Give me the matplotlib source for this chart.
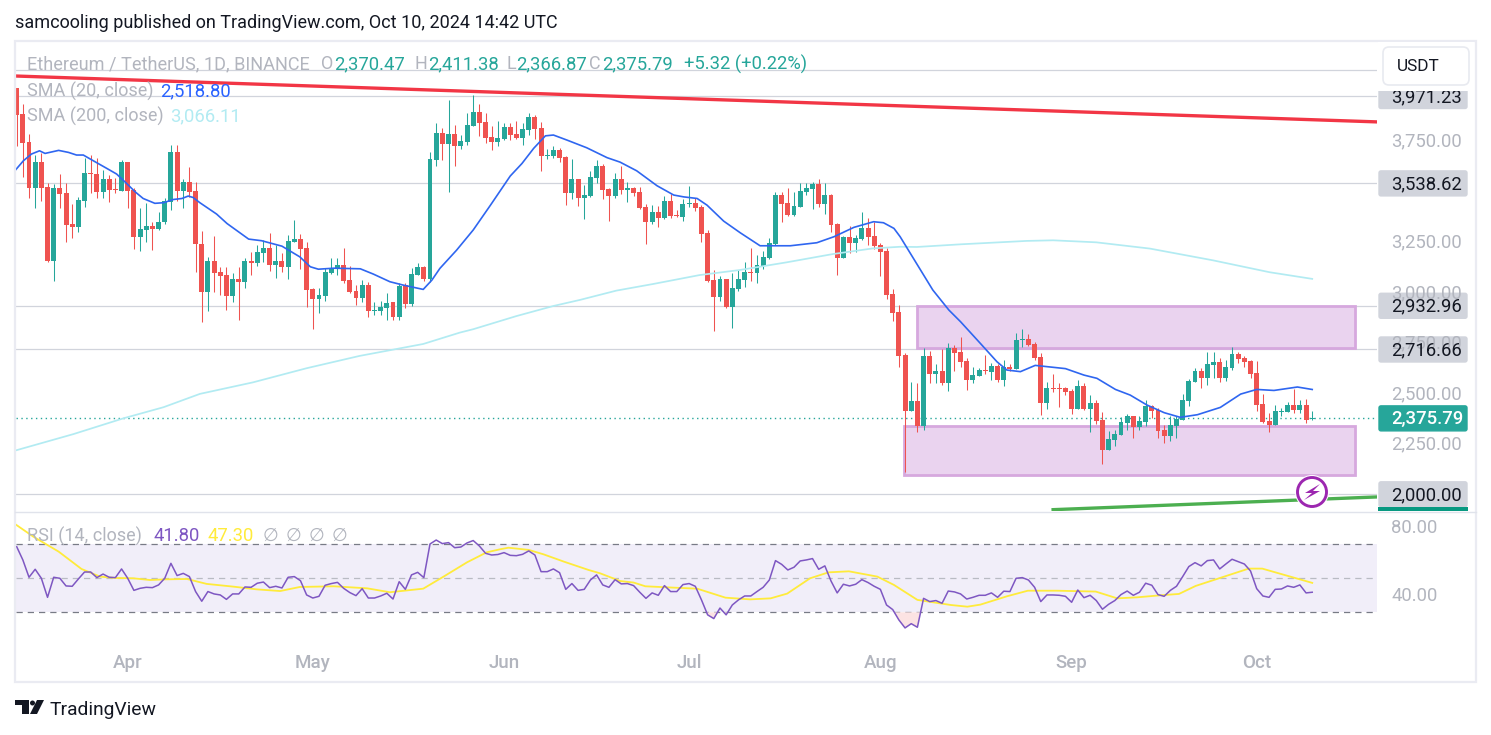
import matplotlib
matplotlib.use('Agg')
import matplotlib.pyplot as plt
from matplotlib.patches import Rectangle, FancyBboxPatch, Circle, Polygon

plt.rcParams['font.family'] = ['Roboto', 'DejaVu Sans']

# daily candles, 14 Mar - 10 Oct 2024
opens = [4009, 3882, 3743, 3517, 3644, 3520, 3156, 3515, 3491, 3337,
         3324, 3453, 3590, 3585, 3497, 3560, 3510, 3502, 3644, 3505,
         3275, 3308, 3327, 3312, 3349, 3448, 3694, 3501, 3545, 3501,
         3238, 3002, 3154, 3098, 3085, 2982, 3065, 3052, 3154, 3146,
         3195, 3218, 3134, 3154, 3124, 3250, 3263, 3218, 3015, 2966,
         2982, 3096, 3113, 3134, 3060, 3006, 2972, 3035, 2907, 2907,
         2923, 2951, 2878, 3034, 2941, 3085, 3126, 3065, 3654, 3786,
         3733, 3783, 3723, 3743, 3822, 3892, 3842, 3768, 3743, 3756,
         3817, 3783, 3763, 3802, 3867, 3812, 3675, 3674, 3704, 3669,
         3491, 3560, 3466, 3476, 3565, 3624, 3510, 3476, 3560, 3507,
         3515, 3496, 3421, 3347, 3397, 3367, 3451, 3382, 3372, 3438,
         3441, 3421, 3293, 3060, 2976, 3065, 2926, 3015, 3060, 3100,
         3095, 3129, 3169, 3238, 3481, 3441, 3382, 3421, 3496, 3510,
         3535, 3436, 3481, 3337, 3169, 3273, 3243, 3263, 3317, 3278,
         3233, 3204, 2991, 2902, 2689, 2414, 2462, 2338, 2684, 2595,
         2610, 2551, 2724, 2704, 2660, 2566, 2585, 2615, 2605, 2635,
         2566, 2630, 2620, 2763, 2768, 2744, 2679, 2452, 2526, 2526,
         2526, 2511, 2422, 2536, 2422, 2452, 2367, 2219, 2269, 2293,
         2353, 2387, 2333, 2358, 2437, 2417, 2318, 2288, 2338, 2367,
         2462, 2556, 2610, 2575, 2640, 2655, 2575, 2625, 2694, 2674,
         2660, 2600, 2447, 2363, 2343, 2407, 2407, 2442, 2417, 2442,
         2370.47]
highs = [4009, 3931, 3783, 3679, 3687, 3542, 3534, 3583, 3539, 3436,
         3469, 3662, 3679, 3662, 3604, 3580, 3567, 3654, 3644, 3514,
         3415, 3440, 3349, 3397, 3464, 3728, 3728, 3558, 3621, 3547,
         3303, 3175, 3278, 3126, 3123, 3093, 3126, 3167, 3200, 3233,
         3258, 3294, 3233, 3192, 3283, 3357, 3288, 3248, 3019, 3019,
         3118, 3167, 3167, 3217, 3129, 3035, 3060, 3052, 2953, 2956,
         2994, 2953, 3044, 3044, 3118, 3143, 3129, 3692, 3840, 3811,
         3951, 3827, 3778, 3885, 3976, 3931, 3888, 3822, 3847, 3836,
         3839, 3847, 3836, 3888, 3877, 3844, 3708, 3725, 3713, 3674,
         3659, 3560, 3530, 3600, 3654, 3637, 3515, 3590, 3624, 3545,
         3519, 3520, 3436, 3431, 3426, 3476, 3486, 3407, 3461, 3525,
         3466, 3431, 3308, 3108, 3080, 3068, 3093, 3110, 3149, 3218,
         3184, 3204, 3266, 3496, 3496, 3515, 3496, 3540, 3540, 3545,
         3560, 3540, 3486, 3341, 3278, 3327, 3283, 3397, 3367, 3347,
         3243, 3218, 3015, 2937, 2701, 2556, 2551, 2722, 2709, 2645,
         2719, 2749, 2739, 2778, 2673, 2630, 2625, 2689, 2650, 2645,
         2664, 2645, 2798, 2818, 2793, 2754, 2699, 2556, 2595, 2551,
         2531, 2521, 2566, 2551, 2491, 2466, 2407, 2313, 2318, 2382,
         2397, 2387, 2387, 2466, 2442, 2425, 2343, 2387, 2387, 2496,
         2570, 2625, 2625, 2704, 2704, 2673, 2664, 2729, 2704, 2684,
         2664, 2660, 2496, 2402, 2442, 2427, 2457, 2521, 2466, 2471,
         2411.38]
lows = [3723, 3571, 3468, 3415, 3453, 3151, 3057, 3415, 3250, 3270,
        3299, 3423, 3492, 3464, 3468, 3448, 3489, 3502, 3415, 3212,
        3205, 3250, 3208, 3308, 3340, 3406, 3453, 3415, 3472, 3101,
        2854, 2908, 3002, 2986, 2912, 2953, 2865, 3019, 3085, 3129,
        3151, 3106, 3072, 3101, 3065, 3250, 3116, 2925, 2819, 2895,
        2958, 3090, 3085, 3044, 2994, 2936, 2953, 2878, 2887, 2887,
        2865, 2865, 2862, 2923, 2933, 3085, 3057, 3052, 3626, 3654,
        3497, 3626, 3708, 3728, 3822, 3773, 3741, 3704, 3723, 3753,
        3753, 3756, 3728, 3778, 3756, 3600, 3659, 3666, 3644, 3431,
        3461, 3426, 3362, 3472, 3540, 3461, 3352, 3464, 3486, 3446,
        3476, 3410, 3238, 3337, 3322, 3362, 3367, 3372, 3352, 3423,
        3403, 3248, 3052, 2808, 2956, 2921, 2822, 3006, 3025, 3055,
        3045, 3114, 3164, 3233, 3347, 3377, 3377, 3421, 3481, 3411,
        3421, 3387, 3298, 3085, 3169, 3192, 3199, 3258, 3233, 3213,
        3080, 2966, 2857, 2632, 2112, 2414, 2308, 2318, 2551, 2551,
        2541, 2511, 2610, 2630, 2516, 2551, 2585, 2595, 2566, 2556,
        2536, 2610, 2620, 2729, 2734, 2664, 2392, 2422, 2506, 2432,
        2491, 2397, 2422, 2417, 2308, 2348, 2150, 2219, 2239, 2293,
        2318, 2278, 2318, 2338, 2377, 2278, 2254, 2264, 2278, 2367,
        2437, 2556, 2526, 2541, 2575, 2556, 2561, 2615, 2650, 2630,
        2575, 2412, 2353, 2308, 2343, 2387, 2407, 2402, 2402, 2353,
        2366.87]
closes = [3877, 3740, 3517, 3644, 3517, 3154, 3515, 3487, 3332, 3324,
          3456, 3590, 3586, 3497, 3560, 3505, 3505, 3644, 3502, 3275,
          3312, 3327, 3312, 3349, 3451, 3694, 3501, 3545, 3497, 3237,
          3002, 3154, 3096, 3080, 2982, 3065, 3052, 3154, 3147, 3199,
          3218, 3134, 3154, 3124, 3253, 3263, 3213, 3012, 2966, 2986,
          3100, 3116, 3134, 3055, 3002, 2972, 3035, 2908, 2910, 2928,
          2949, 2878, 3030, 2941, 3090, 3124, 3065, 3657, 3788, 3735,
          3783, 3723, 3748, 3827, 3892, 3837, 3763, 3743, 3763, 3817,
          3778, 3763, 3807, 3867, 3807, 3674, 3679, 3704, 3664, 3491,
          3560, 3466, 3481, 3570, 3624, 3505, 3476, 3560, 3505, 3515,
          3491, 3416, 3347, 3397, 3367, 3451, 3377, 3377, 3436, 3441,
          3416, 3288, 3055, 2976, 3065, 2926, 3020, 3065, 3100, 3096,
          3134, 3174, 3243, 3481, 3436, 3382, 3426, 3501, 3515, 3535,
          3436, 3481, 3332, 3169, 3273, 3243, 3268, 3317, 3273, 3228,
          3199, 2986, 2897, 2684, 2414, 2462, 2338, 2684, 2595, 2610,
          2551, 2724, 2699, 2655, 2566, 2590, 2615, 2610, 2635, 2566,
          2630, 2620, 2763, 2768, 2739, 2674, 2452, 2526, 2521, 2521,
          2506, 2422, 2536, 2422, 2452, 2363, 2219, 2273, 2298, 2358,
          2387, 2333, 2363, 2437, 2412, 2313, 2288, 2343, 2372, 2466,
          2561, 2610, 2575, 2645, 2655, 2575, 2630, 2694, 2669, 2655,
          2595, 2442, 2358, 2343, 2412, 2412, 2442, 2417, 2442, 2367,
          2375.79]

sma20_days = [-0.3, 1.1, 2.4, 3.7, 4.6, 6.8, 8.4, 9.7, 10.8, 12.4, 14.6, 16.2, 17.8, 19.2, 20.5,
              22.4, 23.8, 25.4, 26.8, 27.8, 28.6, 29.7, 32.4, 34.1, 37.6, 39.7, 43, 45.9, 47.6,
              48.9, 51.4, 55.7, 57.8, 60.5, 62.7, 65.9, 67.3, 68.6, 71.3, 74, 76.8, 80, 81.9,
              83.8, 85.7, 87, 89.2, 92.4, 95.7, 97.8, 100.5, 103.8, 106.5, 108.1, 110.3, 111.9,
              114.6, 117.3, 120.5, 125.4, 129.7, 132.5, 135.7, 138.9, 140.5, 142.2, 143.2, 148.5,
              151.1, 153, 156.2, 158.9, 160.5, 162.7, 165.1, 170, 173, 175.1, 178.1, 180.5, 183.2,
              186, 188.6, 191.4, 195.1, 198.4, 201, 203.8, 207.6, 210]
sma20 = [3601, 3651, 3684, 3700, 3687, 3702, 3692, 3679, 3679, 3651, 3613, 3585, 3539, 3497, 3464,
         3440, 3443, 3459, 3464, 3476, 3469, 3443, 3387, 3340, 3263, 3255, 3228, 3175, 3126,
         3114, 3119, 3116, 3090, 3052, 3035, 3014, 3060, 3118, 3208, 3308, 3431, 3575, 3637,
         3712, 3774, 3778, 3753, 3715, 3666, 3644, 3601, 3527, 3481, 3472, 3464, 3431,
         3352, 3294, 3230, 3230, 3245, 3275, 3321, 3349, 3344, 3316, 3275, 3011,
         2912, 2854, 2747, 2656, 2615, 2607, 2638, 2622, 2590, 2574, 2519, 2491, 2442,
         2404, 2381, 2394, 2430, 2496, 2519, 2514, 2531, 2518.8]

sma200_days = [-0.3, 9.2, 17.3, 23.8, 29.7, 38.3, 47, 55.6, 65.9, 71.8, 74, 81, 87, 91.3, 97.2, 103.2,
               110.7, 117.2, 124.8, 132.3, 138.8, 143.2, 145.9, 152.9, 163.7, 168, 175, 183.7,
               193.9, 203.1, 210]
sma200 = [2216, 2298, 2376, 2431, 2497, 2554, 2624, 2685, 2744, 2800, 2817, 2882, 2932, 2962, 3008, 3041,
          3085, 3110, 3148, 3189, 3217, 3225, 3224, 3237, 3254, 3257, 3247, 3216,
          3158, 3099, 3066.11]

# one value per candle
rsi = [68.6, 60.8, 50.6, 55.3, 50, 38.8, 50.6, 50, 45.5, 45.3,
       49.6, 53.7, 53.7, 50.4, 52.5, 50.6, 50.4, 55.5, 50, 42.9,
       44.1, 44.7, 44.5, 46.1, 50, 58.8, 51.6, 52.9, 51, 42.2,
       36.5, 42.2, 40.8, 40.2, 37.6, 40.8, 40.8, 44.9, 44.7, 47.1,
       47.8, 44.5, 45.3, 44.3, 50.6, 51, 48.6, 40.2, 38.4, 39.4,
       45.9, 46.9, 47.6, 44.1, 41.6, 39.8, 43.9, 38.4, 38.4, 39.6,
       41.2, 37.8, 48, 43.5, 52, 53.5, 50.4, 70.2, 72.5, 70.4,
       71, 68, 68.4, 70.8, 72.2, 69, 64.7, 63.7, 64, 65.1,
       63.5, 63.3, 64.1, 66.1, 63.7, 53.9, 53.9, 55.5, 53.3, 43.5,
       46.9, 42.9, 43.5, 49, 52, 46.1, 44.7, 49.2, 46.7, 46.9,
       45.7, 41.8, 38.2, 41.4, 40, 45.7, 42.2, 42.2, 46.3, 46.9,
       45.3, 37.3, 28.5, 26.3, 32.5, 28.5, 34.3, 37.3, 39.6, 39.6,
       42.2, 44.7, 49, 60.4, 58.2, 54.9, 56.5, 60.2, 60.8, 61.6,
       55.3, 57.3, 48.4, 41.4, 46.5, 45.5, 46.5, 49.2, 47.5, 45.3,
       43.5, 34.3, 31.6, 25.5, 20.8, 23.3, 21.2, 38.2, 36.3, 36.9,
       35.3, 42.5, 42, 40.8, 37.8, 38.8, 40, 40, 41.4, 38.8,
       42.4, 42.2, 50, 50.4, 49, 44.7, 36.3, 40.2, 40.2, 40,
       39.4, 35.9, 43.1, 38.6, 40, 36.9, 31.8, 34.7, 36.9, 40.4,
       42.5, 40, 41.8, 47.1, 45.9, 40.4, 39.4, 42.9, 45.3, 51,
       56.9, 59.2, 57.3, 60.4, 60.8, 55.5, 58.4, 61.2, 59.8, 58.4,
       54.3, 43.9, 39.6, 38.8, 43.5, 43.7, 45.5, 44.7, 46.1, 41.4,
       41.8]

rsi_ma_days = [-0.3, 2.7, 6.8, 10.5, 13.5, 15.9, 18.9, 21.6, 24.3, 27.6, 30.8, 35.1, 38.9, 42.7, 45.9,
               51.4, 56.8, 60.5, 65.9, 69.2, 73, 76.2, 78.4, 79.7, 83, 85.4, 88.7, 92.7, 94.6, 97.8,
               100, 101.9, 106.5, 110.3, 114.9, 118.9, 122.2, 124.9, 128.6, 131.6, 134.9, 139.5,
               142.2, 146, 151.4, 154.1, 156.2, 160.5, 163.9, 168.6, 174.9, 178.4, 181.6, 185.4,
               188.4, 191.1, 197, 199.7, 201.9, 210]
rsi_ma = [82, 74.5, 65.7, 55.5, 51, 50.2, 50, 49, 49.4, 49.6, 46.7, 45.1, 43.5, 42.5, 44.9,
          45.3, 44.1, 41.8, 43.9, 51, 59.4, 65.3, 67.1, 68, 66.7, 64.1, 59.8, 54.9, 52.9, 48.4,
          47.5, 45.3, 44.5, 43.9, 38.6, 37.6, 38.2, 41, 50, 53.5, 54.1, 51,
          46.1, 37.3, 34.3, 33.3, 34.5, 39.4, 42.7, 42.7, 42.2, 38.2, 38.8, 40,
          40.8, 45.5, 52.5, 55.7, 55.7, 47.3]

hlines = [4098, 3971.23, 3538.62, 2932.96, 2716.66, 2000]
trend_red_days = [-0.1, 220.5]
trend_red = [4070, 3843]
trend_green_days = [168, 220.5]
trend_green = [1924, 1987]
# zones: first day, last day, top price, bottom price
zone_upper = [146.0, 217.0, 2930, 2726]
zone_lower = [143.9, 217.0, 2340, 2094]
last_price = 2375.79

month_days = [18, 48, 79, 109, 140, 171, 201]
month_names = ['Apr', 'May', 'Jun', 'Jul', 'Aug', 'Sep', 'Oct']
price_ticks = [3750, 3250, 3000, 2750, 2500, 2250]
price_tags = [3971.23, 3538.62, 2932.96, 2716.66, 2000]
rsi_ticks = [80, 40]

W, H = 1491, 735
UP = '#26a69a'
DOWN = '#ef5350'
GREY = '#b2b5be'
GRID = '#d1d4dc'
ZONE_FILL = '#ead3ef'
ZONE_EDGE = '#d6a8de'
WORDS = 13
DIGITS = 13.3


def pane(left, top, right, bottom):
    ax = fig.add_axes([left / W, 1 - bottom / H, (right - left) / W, (bottom - top) / H])
    for s in ax.spines.values():
        s.set_visible(False)
    ax.set_facecolor('none')
    return ax


fig = plt.figure(figsize=(W / 100, H / 100), dpi=100, facecolor='white')
main = pane(16, 42, 1377, 511)
main.set_xlim(-0.11, 220.5)
main.set_ylim(1917.4, 4238.4)
main.set_xticks([])
main.set_yticks([])

# price panel
for v in hlines:
    main.axhline(v, color=GRID, lw=0.9, zorder=1)
for z in [zone_upper, zone_lower]:
    main.add_patch(Rectangle((z[0], z[3]), z[1] - z[0], z[2] - z[3], facecolor=ZONE_FILL,
                             edgecolor=ZONE_EDGE, lw=2.0, zorder=2))
main.axhline(last_price, color=UP, lw=1, ls=(0, (1, 2.5)), zorder=3)

days = list(range(len(opens)))
colors = [UP if c >= o else DOWN for o, c in zip(opens, closes)]
main.vlines(days, lows, highs, colors=colors, lw=0.75, zorder=4)
bottoms = [min(o, c) for o, c in zip(opens, closes)]
heights = [max(abs(c - o), 4) for o, c in zip(opens, closes)]
main.bar(days, heights, bottom=bottoms, width=0.8, color=colors, linewidth=0, zorder=5)

main.plot(sma200_days, sma200, color='#b2ebf2', lw=1.25, zorder=6)
main.plot(sma20_days, sma20, color='#2f66f0', lw=1.2, zorder=7)
main.plot(trend_red_days, trend_red, color='#f23645', lw=2.4, zorder=8)
main.plot(trend_green_days, trend_green, color='#4caf50', lw=2.4, zorder=8)

# RSI panel, the time labels hang below it
low = pane(16, 512, 1377, 640)
low.set_xlim(-0.11, 220.5)
low.set_ylim(13.7, 89)
low.axhspan(30, 70, color='#f1eef9', lw=0, zorder=1)
low.axhline(70, color='#787b86', lw=0.9, ls=(0, (5, 4)), zorder=2)
low.axhline(50, color='#b9bbc3', lw=0.9, ls=(0, (5, 4)), zorder=2)
low.axhline(30, color='#787b86', lw=0.9, ls=(0, (5, 4)), zorder=2)
low.fill_between(days, rsi, 30, where=[r < 30 for r in rsi], interpolate=True,
                 color='#fce3e3', lw=0, zorder=3)
low.plot(rsi_ma_days, rsi_ma, color='#ffeb3b', lw=1.3, zorder=4)
low.plot(days, rsi, color='#7e57c2', lw=1.1, zorder=5)
low.set_yticks([])
low.set_xticks(month_days)
low.set_xticklabels(month_names, fontsize=13.5, color=GREY, fontweight='medium')
low.tick_params(axis='x', length=0, pad=10)

# everything around the panes, in image pixels
ov = fig.add_axes([0, 0, 1, 1], zorder=10)
ov.set_xlim(0, W)
ov.set_ylim(H, 0)
ov.axis('off')


def price_y(ax, v):
    return ov.transData.inverted().transform(ax.transData.transform((0, v)))[1]


def label(x, y, s, color=GREY, size=DIGITS, **kw):
    ov.text(x, y + 1, s, color=color, fontsize=size, va='center', ha='left', zorder=12, **kw)


ov.add_patch(Rectangle((15, 41), 1461, 641, fill=False, edgecolor='#eaebf2', lw=1.6))
ov.plot([15, 1476], [511.5, 511.5], color='#e0e3eb', lw=1)

label(15, 22, 'samcooling published on TradingView.com, Oct 10, 2024 14:42 UTC', '#131722', size=12.95)
label(27, 63, 'Ethereum / TetherUS, 1D, BINANCE', size=13.1)
for x, s in [(321, 'O'), (415, 'H'), (506, 'L'), (589, 'C')]:
    label(x, 63, s, size=WORDS)
for x, s in [(334, '2,370.47'), (428, '2,411.38'), (516, '2,366.87'), (602, '2,375.79')]:
    label(x, 63, s, UP)
label(684, 63, '+5.32 (+0.22%)', UP, size=13.2)
label(27, 90, 'SMA (20, close)', size=WORDS)
label(160, 90, '2,518.80', '#2962ff')
label(27, 115, 'SMA (200, close)', size=WORDS)
label(170, 115, '3,066.11', '#b2ebf2')
label(27, 535, 'RSI (14, close)', size=WORDS)
label(153, 535, '41.80', '#7e57c2')
label(208, 535, '47.30', '#ffeb3b')
for x in [263, 286, 309, 332]:
    label(x, 535, '\u2205', size=WORDS)

# right hand scale
for v in price_ticks:
    label(1391, price_y(main, v), f'{v:,.2f}')
for v in rsi_ticks:
    label(1391, price_y(low, v), f'{v:.2f}')
for v in price_tags:
    y = price_y(main, v)
    ov.add_patch(FancyBboxPatch((1379, y - 12.5), 88, 25, boxstyle='round,pad=0,rounding_size=2',
                                facecolor=GRID, edgecolor=GRID, lw=1, zorder=11))
    label(1391, y, f'{v:,.2f}', '#131722')
y = price_y(main, last_price)
ov.add_patch(FancyBboxPatch((1379, y - 12.5), 88, 25, boxstyle='round,pad=0,rounding_size=2',
                            facecolor=UP, edgecolor=UP, lw=1, zorder=11))
label(1391, y, f'{last_price:,.2f}', 'white', fontweight='medium')
ov.add_patch(Rectangle((1378, 507), 90, 4, facecolor='#089981', lw=0, zorder=11))

# USDT button hides the top of the first tag
ov.add_patch(Rectangle((1378, 42), 96, 49, facecolor='white', lw=0, zorder=13))
ov.add_patch(FancyBboxPatch((1383, 47), 86, 38, boxstyle='round,pad=0,rounding_size=6',
                            facecolor='white', edgecolor='#e8eaf0', lw=1.2, zorder=14))
ov.text(1397, 66, 'USDT', color='#131722', fontsize=12.4, va='center', zorder=15)

# lightning badge
ov.add_patch(Circle((1312, 492), 17, facecolor='white', lw=0, zorder=11))
ov.add_patch(Circle((1312, 492), 14.5, facecolor='white', edgecolor='#9c27b0', lw=2.1, zorder=12))
ov.add_patch(Polygon([(1320, 484), (1305, 493), (1312, 493), (1304, 500), (1320, 491), (1313, 491)],
                     facecolor='#9c27b0', lw=0, zorder=13))

# TradingView logo and name
ov.add_patch(Polygon([(15, 700), (29, 700), (29, 714), (22, 714), (22, 705), (15, 705)],
                     facecolor='#131722', lw=0))
ov.add_patch(Circle((32.5, 703), 2.5, facecolor='#131722', lw=0))
ov.add_patch(Polygon([(37, 700), (44, 700), (37, 714), (30, 714)], facecolor='#131722', lw=0))
label(50, 709, 'TradingView', '#131722', size=13.9)

fig.savefig('out.png', dpi=100)
